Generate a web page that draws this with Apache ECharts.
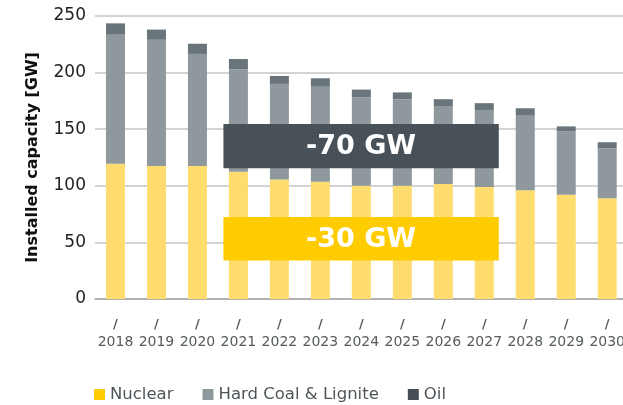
<!DOCTYPE html>
<html><head><meta charset="utf-8">
<script src="https://cdn.jsdelivr.net/npm/echarts@6/dist/echarts.min.js"></script>
<style>html,body{margin:0;padding:0;background:#fff;overflow:hidden}#c{width:628px;height:405px}</style>
</head><body><div id="c"></div>
<script>
const years = ['2018','2019','2020','2021','2022','2023','2024','2025','2026','2027','2028','2029','2030'];
const nuclear = [119.5,117.5,117.5,112.5,105.5,103.5,100,100,101.5,99,96,92,89];
const coal = [114.5,111.5,99,90.5,84.5,84,78,76.5,69,68,66.5,56,44];
const oil = [9.5,9,9,9,7,7.5,7,6,6,6,6,4.5,5.5];
const yTicks = [0,50,100,150,200,250];
const annotations = [
  {text:'-70 GW', from:'2021', to:'2027', top:154.5, bottom:115.5, color:'#475157'},
  {text:'-30 GW', from:'2021', to:'2027', top:72.5, bottom:34, color:'#FFCC00'}
];

const chart = echarts.init(document.getElementById('c'));
const F = 'DejaVu Sans';
chart.setOption({
  animation:false,
  grid:{left:95, right:0, top:16, bottom:106},
  legend:{
    top:381, left:89, itemWidth:11, itemHeight:11, itemGap:29,
    icon:'rect',
    textStyle:{fontFamily:F, fontSize:16.5, color:'#4d5559'},
    data:[
      {name:'Nuclear', itemStyle:{color:'#FFCC00'}},
      {name:'Hard Coal & Lignite', itemStyle:{color:'#8E989D'}},
      {name:'Oil', itemStyle:{color:'#464F54'}}
    ]
  },
  xAxis:{
    type:'category', data:years,
    axisLine:{lineStyle:{color:'#A6A6A6', width:1.5}},
    axisTick:{show:false},
    axisLabel:{
      margin:17, interval:0,
      formatter:v=>'{s|/}\n{y|'+v+'}',
      rich:{
        s:{fontFamily:F, fontSize:13, fontWeight:'bold', color:'#555b5e', lineHeight:18},
        y:{fontFamily:F, fontSize:14, color:'#555b5e', lineHeight:17}
      }
    }
  },
  yAxis:{
    type:'value', min:0, max:250, interval:50,
    name:'Installed capacity [GW]', nameLocation:'middle', nameGap:54,
    nameTextStyle:{fontFamily:F, fontSize:16, fontWeight:'bold', color:'#111'},
    axisLine:{show:false},
    axisTick:{show:false},
    splitLine:{lineStyle:{color:'#C4C4C4', width:1.5}},
    axisLabel:{fontFamily:F, fontSize:17, color:'#222', margin:9,
      formatter:v=>yTicks.includes(v)?String(v):''}
  },
  series:[
    {name:'Nuclear', type:'bar', stack:'a', data:nuclear, barWidth:19, itemStyle:{color:'#FFDC6E'}},
    {name:'Hard Coal & Lignite', type:'bar', stack:'a', data:coal, barWidth:19, itemStyle:{color:'#8E989D'}},
    {name:'Oil', type:'bar', stack:'a', data:oil, barWidth:19, itemStyle:{color:'#69757A'}}
  ]
});

const graphics = annotations.map(a=>{
  const p1 = chart.convertToPixel({xAxisIndex:0,yAxisIndex:0},[a.from,a.top]);
  const p2 = chart.convertToPixel({xAxisIndex:0,yAxisIndex:0},[a.to,a.bottom]);
  const x1 = p1[0]-15, x2 = p2[0]+14.5;
  return {
    type:'group', z:100, children:[
      {type:'rect', z:100, shape:{x:x1, y:p1[1], width:x2-x1, height:p2[1]-p1[1]}, style:{fill:a.color}},
      {type:'text', z:101, x:(x1+x2)/2, y:(p1[1]+p2[1])/2+1, style:{text:a.text, fill:'#fff',
        font:'bold 27px "DejaVu Sans"', align:'center', verticalAlign:'middle'}}
    ]
  };
});
chart.setOption({graphic:graphics});
</script>
</body></html>
